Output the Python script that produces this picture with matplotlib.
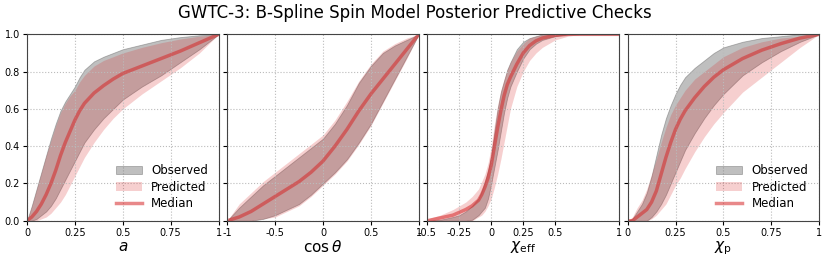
import numpy as np
import matplotlib.pyplot as plt

# spin magnitude a
a_x = [0, 0.025, 0.05, 0.075, 0.1, 0.125, 0.15, 0.175, 0.2, 0.225, 0.25, 0.275, 0.3,
       0.35, 0.4, 0.45, 0.5, 0.6, 0.7, 0.8, 0.9, 1.0]
a_obs_lo = [0, 0, 0.01, 0.03, 0.05, 0.08, 0.12, 0.17, 0.22, 0.27, 0.32, 0.37, 0.42,
            0.49, 0.55, 0.60, 0.65, 0.72, 0.78, 0.85, 0.92, 1.0]
a_obs_hi = [0, 0.08, 0.17, 0.26, 0.35, 0.44, 0.52, 0.59, 0.64, 0.68, 0.72, 0.77, 0.81,
            0.855, 0.88, 0.90, 0.92, 0.945, 0.97, 0.985, 0.995, 1.0]
a_pred_lo = [0, 0, 0, 0.01, 0.02, 0.04, 0.07, 0.10, 0.14, 0.19, 0.24, 0.29, 0.34,
             0.42, 0.49, 0.55, 0.60, 0.68, 0.75, 0.82, 0.90, 1.0]
a_pred_hi = [0, 0.08, 0.17, 0.26, 0.35, 0.43, 0.51, 0.58, 0.63, 0.67, 0.70, 0.745, 0.78,
             0.83, 0.86, 0.88, 0.90, 0.93, 0.955, 0.975, 0.99, 1.0]
a_med = [0, 0.02, 0.05, 0.09, 0.14, 0.20, 0.27, 0.35, 0.42, 0.48, 0.54, 0.59, 0.63,
         0.685, 0.725, 0.76, 0.79, 0.83, 0.87, 0.91, 0.955, 1.0]

# tilt cos(theta)
ct_x = [-1, -0.875, -0.75, -0.625, -0.5, -0.375, -0.25, -0.125, 0, 0.125, 0.25,
        0.375, 0.5, 0.625, 0.75, 0.875, 1.0]
ct_obs_lo = [0, 0, 0, 0.01, 0.03, 0.06, 0.09, 0.14, 0.20, 0.26, 0.33, 0.42, 0.52,
             0.64, 0.76, 0.88, 1.0]
ct_obs_hi = [0, 0.07, 0.13, 0.19, 0.24, 0.29, 0.34, 0.39, 0.44, 0.52, 0.62, 0.74, 0.83,
             0.90, 0.94, 0.97, 1.0]
ct_pred_lo = [0, 0, 0, 0.01, 0.02, 0.05, 0.08, 0.13, 0.19, 0.25, 0.32, 0.41, 0.51,
              0.63, 0.75, 0.87, 1.0]
ct_pred_hi = [0, 0.09, 0.15, 0.21, 0.26, 0.31, 0.36, 0.41, 0.46, 0.54, 0.64, 0.75, 0.84,
              0.91, 0.95, 0.98, 1.0]
ct_med = [0, 0.02, 0.05, 0.09, 0.13, 0.17, 0.21, 0.26, 0.32, 0.40, 0.49, 0.59, 0.68,
          0.76, 0.84, 0.92, 1.0]

# chi_eff
ce_x = [-0.5, -0.4, -0.3, -0.25, -0.2, -0.15, -0.1, -0.075, -0.05, -0.025, 0, 0.025,
        0.05, 0.075, 0.1, 0.125, 0.15, 0.2, 0.25, 0.3, 0.35, 0.4, 0.5, 0.6, 0.7, 1.0]
ce_obs_lo = [0, 0, 0, 0, 0, 0.005, 0.03, 0.05, 0.07, 0.12, 0.20, 0.29, 0.38, 0.48, 0.58,
             0.66, 0.72, 0.80, 0.87, 0.92, 0.95, 0.97, 0.99, 1, 1, 1]
ce_obs_hi = [0, 0.005, 0.02, 0.03, 0.05, 0.08, 0.12, 0.16, 0.21, 0.27, 0.35, 0.48, 0.60,
             0.69, 0.75, 0.81, 0.85, 0.92, 0.96, 0.98, 0.99, 1, 1, 1, 1, 1]
ce_pred_lo = [0, 0, 0, 0, 0, 0, 0.02, 0.03, 0.05, 0.08, 0.12, 0.18, 0.25, 0.33, 0.42,
              0.51, 0.60, 0.72, 0.80, 0.86, 0.90, 0.93, 0.97, 0.99, 1, 1]
ce_pred_hi = [0.01, 0.03, 0.06, 0.08, 0.10, 0.13, 0.17, 0.21, 0.25, 0.31, 0.40, 0.52, 0.62,
              0.70, 0.76, 0.81, 0.85, 0.91, 0.95, 0.98, 0.99, 1, 1, 1, 1, 1]
ce_med = [0, 0.015, 0.03, 0.045, 0.06, 0.08, 0.11, 0.14, 0.18, 0.23, 0.30, 0.40, 0.50,
          0.59, 0.67, 0.73, 0.77, 0.84, 0.90, 0.94, 0.965, 0.98, 0.995, 1, 1, 1]

# chi_p
cp_x = [0, 0.025, 0.05, 0.075, 0.1, 0.125, 0.15, 0.175, 0.2, 0.225, 0.25, 0.275, 0.3,
        0.35, 0.4, 0.45, 0.5, 0.6, 0.7, 0.8, 0.9, 1.0]
cp_obs_lo = [0, 0, 0, 0, 0, 0.02, 0.05, 0.09, 0.14, 0.20, 0.26, 0.32, 0.38,
             0.47, 0.55, 0.62, 0.68, 0.78, 0.85, 0.91, 0.96, 1.0]
cp_obs_hi = [0, 0.01, 0.05, 0.09, 0.15, 0.24, 0.35, 0.46, 0.55, 0.62, 0.68, 0.73, 0.77,
             0.82, 0.86, 0.90, 0.93, 0.96, 0.98, 0.99, 1.0, 1.0]
cp_pred_lo = [0, 0, 0, 0, 0, 0.01, 0.03, 0.06, 0.09, 0.14, 0.19, 0.23, 0.28,
              0.37, 0.45, 0.52, 0.58, 0.69, 0.77, 0.85, 0.93, 1.0]
cp_pred_hi = [0, 0.02, 0.07, 0.11, 0.17, 0.25, 0.33, 0.42, 0.50, 0.57, 0.62, 0.66, 0.70,
              0.76, 0.80, 0.84, 0.88, 0.93, 0.96, 0.98, 0.99, 1.0]
cp_med = [0, 0, 0.02, 0.04, 0.06, 0.10, 0.16, 0.25, 0.34, 0.42, 0.49, 0.545, 0.59,
          0.66, 0.72, 0.77, 0.81, 0.87, 0.915, 0.95, 0.98, 1.0]

panels = [
    (a_x, a_obs_lo, a_obs_hi, a_pred_lo, a_pred_hi, a_med, r'$a$',
     (0, 1), [0, 0.25, 0.5, 0.75, 1], ['0', '0.25', '0.5', '0.75', '1'], True),
    (ct_x, ct_obs_lo, ct_obs_hi, ct_pred_lo, ct_pred_hi, ct_med, r'$\cos\theta$',
     (-1, 1), [-1, -0.5, 0, 0.5, 1], ['-1', '-0.5', '0', '0.5', '1'], False),
    (ce_x, ce_obs_lo, ce_obs_hi, ce_pred_lo, ce_pred_hi, ce_med, r'$\chi_\mathrm{eff}$',
     (-0.5, 1), [-0.5, -0.25, 0, 0.25, 0.5, 1], ['-0.5', '-0.25', '0', '0.25', '0.5', '1'], False),
    (cp_x, cp_obs_lo, cp_obs_hi, cp_pred_lo, cp_pred_hi, cp_med, r'$\chi_\mathrm{p}$',
     (0, 1), [0, 0.25, 0.5, 0.75, 1], ['0', '0.25', '0.5', '0.75', '1'], True),
]

fig, axes = plt.subplots(1, 4, figsize=(8.3, 2.6), dpi=100, sharey=True)
fig.subplots_adjust(left=0.0325, right=0.987, top=0.868, bottom=0.151, wspace=0.045)

for ax, (x, olo, ohi, plo, phi, med, lab, xlim, ticks, tlabs, leg) in zip(axes, panels):
    ax.fill_between(x, olo, ohi, color='gray', alpha=0.5, edgecolor='dimgray', lw=0.6, label='Observed')
    ax.fill_between(x, plo, phi, color='tab:red', alpha=0.22, lw=0, label='Predicted')
    ax.plot(x, med, color='tab:red', alpha=0.55, lw=2.5, label='Median')
    ax.set_xlim(*xlim)
    ax.set_ylim(0, 1)
    ax.set_xticks(ticks)
    ax.set_xticklabels(tlabs)
    ax.set_xlabel(lab, fontsize=11, labelpad=1)
    ax.grid(True, ls=':', color='#bbbbbb', lw=0.8)
    ax.tick_params(labelsize=7, length=3, pad=2)
    for s in ax.spines.values():
        s.set_color('#444444')
    if leg:
        ax.legend(loc='lower right', frameon=False, fontsize=8.5, handlelength=2.2, labelspacing=0.3)

axes[0].set_yticks([0, 0.2, 0.4, 0.6, 0.8, 1.0])
fig.suptitle('GWTC-3: B-Spline Spin Model Posterior Predictive Checks', fontsize=12, y=0.985)

plt.savefig('out.png', dpi=100)
